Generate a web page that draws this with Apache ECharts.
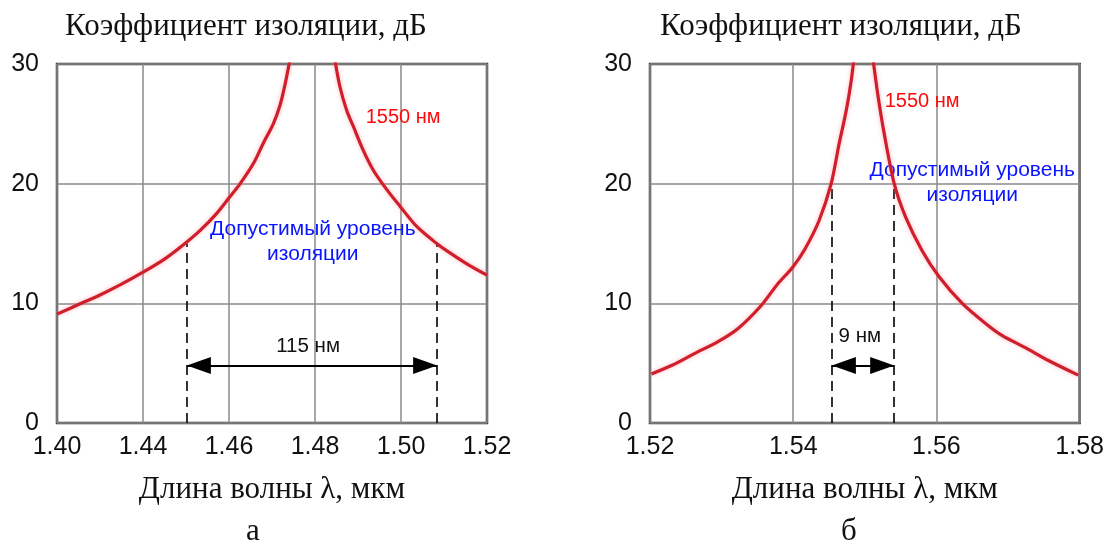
<!DOCTYPE html>
<html><head><meta charset="utf-8">
<script src="https://cdn.jsdelivr.net/npm/echarts@6/dist/echarts.min.js"></script>
<style>html,body{margin:0;padding:0;background:#fff}#c{width:1107px;height:544px}</style>
</head><body><div id="c"></div>
<script>
// ---- data ----
const yTicks = [0, 10, 20, 30];
const xTickLabelsA = ['1.40', '1.44', '1.46', '1.48', '1.50', '1.52'];
const xTickLabelsB = ['1.52', '1.54', '1.56', '1.58'];
const xRangeA = [1.42, 1.52];
const xRangeB = [1.52, 1.58];
const xStep = 0.02;

// chart "а": left and right branches of the isolation curve (μm, dB)
const curveA_left = [[1.420, 9.1], [1.425, 9.9], [1.430, 10.7], [1.435, 11.6], [1.440, 12.6], [1.445, 13.7],
  [1.4494, 14.9], [1.4533, 16.1], [1.4571, 17.5], [1.4602, 18.9], [1.4626, 20.0], [1.4657, 21.7], [1.4680, 23.4],
  [1.4703, 25.0], [1.4719, 26.6], [1.4731, 28.4], [1.4743, 30.6]];
const curveA_right = [[1.4845, 30.6], [1.4858, 28.1], [1.4874, 26.1], [1.4889, 24.8], [1.4912, 22.8], [1.4936, 21.1],
  [1.4967, 19.5], [1.4998, 18.1], [1.5037, 16.4], [1.5083, 15.0], [1.5106, 14.4], [1.5153, 13.3], [1.5200, 12.35]];
// chart "б"
const curveB_left = [[1.5202, 4.1], [1.5230, 4.8], [1.5262, 5.8], [1.5295, 6.8], [1.5323, 7.9], [1.5355, 9.8],
  [1.5378, 11.6], [1.5399, 13.0], [1.5416, 14.5], [1.5436, 16.9], [1.5453, 20.0], [1.5464, 23.3], [1.5474, 26.1],
  [1.5481, 28.6], [1.5485, 30.6]];
const curveB_right = [[1.5511, 30.6], [1.5518, 27.5], [1.5527, 24.2], [1.5541, 20.0], [1.5557, 17.2], [1.5580, 14.4],
  [1.5604, 12.2], [1.5636, 10.0], [1.5669, 8.3], [1.5692, 7.3], [1.5724, 6.3], [1.5757, 5.2], [1.5798, 4.0]];

const levelA = 15, levelB = 20;               // допустимый уровень изоляции
const bandA = [1.4502, 1.5084], bandB = [1.5454, 1.5541];
const arrowY = 4.8;
const widthLabelA = '115 нм', widthLabelB = '9 нм';
const widthLabelPosA = [1.4784, 6.4], widthLabelPosB = [1.5493, 7.2];
const peakLabel = '1550 нм';
const peakLabelPosA = [1.5005, 25.5], peakLabelPosB = [1.5580, 26.9];
const levelLabel = 'Допустимый уровень\nизоляции';
const levelLabelPosA = [1.4795, 15.15], levelLabelPosB = [1.5650, 20.05];
const yTitle = 'Коэффициент изоляции, дБ';
const xTitle = 'Длина волны λ, мкм';
const panelLetters = ['а', 'б'];

// ---- chart ----
const SANS = 'Liberation Sans', SERIF = 'Liberation Serif';
const RED = '#cf1f2d', BLUE = '#2c2c96';

function tickFmt(labels, min) {
  return v => labels[Math.round((v - min) / xStep)] ?? '';
}
function xAxisDef(idx, range, labels) {
  return {
    type: 'value', gridIndex: idx, min: range[0], max: range[1], interval: xStep,
    axisLine: { show: false }, axisTick: { show: false },
    axisLabel: { formatter: tickFmt(labels, range[0]), fontFamily: SANS, fontSize: 25, color: '#111', margin: 12 },
    splitLine: { show: true, lineStyle: { color: '#8a8a8a', width: 1.5 } },
    name: xTitle, nameLocation: 'middle', nameGap: 51,
    nameTextStyle: { fontFamily: SERIF, fontSize: 31, color: '#111' }
  };
}
function yAxisDef(idx) {
  return {
    type: 'value', gridIndex: idx, min: yTicks[0], max: yTicks[yTicks.length - 1], interval: yTicks[1] - yTicks[0],
    axisLine: { show: false }, axisTick: { show: false },
    axisLabel: { fontFamily: SANS, fontSize: 25, color: '#111', margin: 18 },
    splitLine: { show: true, lineStyle: { color: '#8a8a8a', width: 1.5 } }
  };
}
function textPoint(pos, text, color, size, lh) {
  return {
    coord: pos, symbol: 'circle', symbolSize: 1, itemStyle: { color: 'rgba(0,0,0,0)' },
    label: { show: true, position: 'inside', formatter: text, color: color, fontFamily: SANS, fontSize: size, lineHeight: lh || size * 1.2, align: 'center' }
  };
}
function curveSeries(idx, data) {
  return {
    type: 'line', xAxisIndex: idx, yAxisIndex: idx, data: data, showSymbol: false, symbol: 'none', clip: true,
    smooth: 0.3,
    lineStyle: { color: RED, width: 3.2, shadowColor: 'rgba(255,120,130,0.55)', shadowBlur: 4 },
    z: 5, silent: true, animation: false
  };
}
function annotSeries(idx, level, band, wLabel, wPos, pPos, lPos) {
  return {
    type: 'line', xAxisIndex: idx, yAxisIndex: idx, data: [], symbol: 'none', animation: false, silent: true, z: 6,
    markLine: {
      silent: true, animation: false, symbol: ['none', 'none'], label: { show: false },
      data: [
        [{ coord: [band[0], 0], lineStyle: { color: '#000', width: 1.6, type: [10, 6] } }, { coord: [band[0], level] }],
        [{ coord: [band[1], 0], lineStyle: { color: '#000', width: 1.6, type: [10, 6] } }, { coord: [band[1], level] }],
        [{ yAxis: level, lineStyle: { color: BLUE, width: 2, type: 'solid' } }, { yAxis: level }],
        [{ coord: [band[0], arrowY], symbol: 'triangle', symbolSize: [17, 24], symbolOffset: [0, 12],
           lineStyle: { color: '#000', width: 2, type: 'solid' }, itemStyle: { color: '#000' } },
         { coord: [band[1], arrowY], symbol: 'triangle', symbolSize: [17, 24], symbolOffset: [0, 12] }]
      ]
    },
    markPoint: {
      silent: true, animation: false,
      data: [
        textPoint(wPos, wLabel, '#111', 20.5),
        textPoint(pPos, peakLabel, '#ff0a0a', 20),
        textPoint(lPos, levelLabel, '#0a14ff', 21, 25)
      ]
    }
  };
}

const chart = echarts.init(document.getElementById('c'), null, { renderer: 'canvas' });
chart.setOption({
  backgroundColor: '#fff',
  animation: false,
  grid: [
    { left: 57, top: 64, width: 430, height: 359, show: true, borderColor: '#3a3a3a', borderWidth: 2.5, backgroundColor: 'transparent' },
    { left: 650, top: 64, width: 431, height: 359, show: true, borderColor: '#3a3a3a', borderWidth: 2.5, backgroundColor: 'transparent' }
  ],
  xAxis: [xAxisDef(0, xRangeA, xTickLabelsA), xAxisDef(1, xRangeB, xTickLabelsB)],
  yAxis: [yAxisDef(0), yAxisDef(1)],
  series: [
    curveSeries(0, curveA_left), curveSeries(0, curveA_right),
    curveSeries(1, curveB_left), curveSeries(1, curveB_right),
    annotSeries(0, levelA, bandA, widthLabelA, widthLabelPosA, peakLabelPosA, levelLabelPosA),
    annotSeries(1, levelB, bandB, widthLabelB, widthLabelPosB, peakLabelPosB, levelLabelPosB)
  ],
  graphic: [
    { type: 'text', left: 65, top: 11, style: { text: yTitle, font: '31px "Liberation Serif"', fill: '#111' } },
    { type: 'text', left: 660, top: 11, style: { text: yTitle, font: '31px "Liberation Serif"', fill: '#111' } },
    { type: 'text', left: 246, top: 516, style: { text: panelLetters[0], font: '31px "Liberation Serif"', fill: '#111' } },
    { type: 'text', left: 841, top: 516, style: { text: panelLetters[1], font: '31px "Liberation Serif"', fill: '#111' } }
  ]
});
</script></body></html>
